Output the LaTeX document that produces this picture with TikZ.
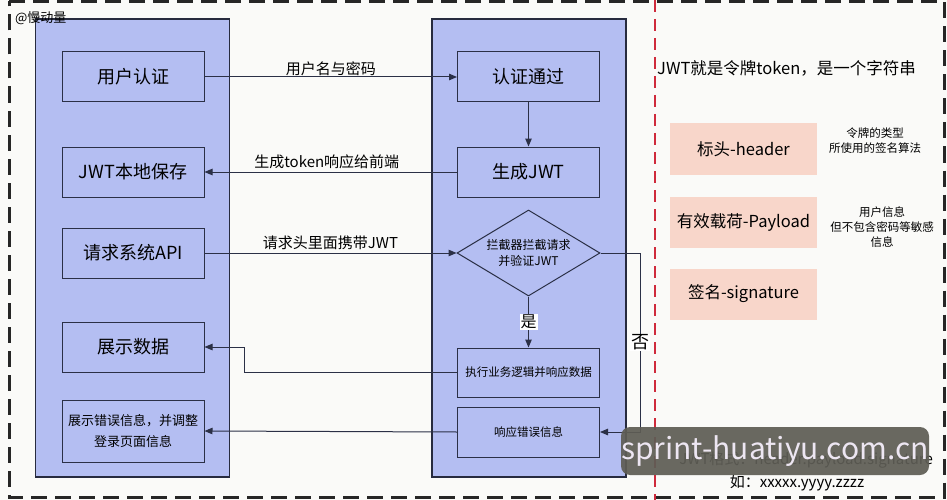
\documentclass[tikz,border=0pt]{standalone}
\usepackage{fontspec}
\setmainfont{Noto Sans CJK SC}
\usetikzlibrary{shapes.geometric,arrows.meta}
\definecolor{bgc}{HTML}{FAFAF8}
\definecolor{panelc}{HTML}{B4BEF2}
\definecolor{edgec}{HTML}{2B3046}
\definecolor{pinkc}{HTML}{F8D6CA}
\definecolor{redc}{HTML}{CF2A3C}
\definecolor{wmc}{HTML}{5E5D55}
\definecolor{wmt}{HTML}{EDE6F2}
\tikzset{
  panel/.style={draw=edgec!90!black, line width=1.2pt, fill=panelc, minimum width=#1},
  lbox/.style={draw=edgec, line width=1pt, fill=panelc, minimum width=142pt, minimum height=50pt, inner sep=0pt, align=center, font=\fontsize{18}{20}\selectfont},
  pbox/.style={fill=pinkc, minimum width=147pt, minimum height=51pt, inner sep=0pt, font=\fontsize{16.5}{19}\selectfont},
  note/.style={align=center, font=\fontsize{11.5}{15}\selectfont},
  lab/.style={font=\fontsize{15}{17}\selectfont},
  conn/.style={draw=edgec, line width=1pt, -{Triangle[length=8pt,width=6.5pt]}},
}
\begin{document}
\begin{tikzpicture}[x=1pt,y=-1pt]
\useasboundingbox (0,0) rectangle (947,500);
\fill[bgc] (0,0) rectangle (947,500);
% outer dashed border
\draw[black!85, line width=3pt, dash pattern=on 16pt off 8pt] (9,1.5) -- (944,1.5) -- (944,497) -- (9,497) -- cycle;
% red divider
\draw[redc, line width=2pt, dash pattern=on 12pt off 7pt] (655,0) -- (655,500);
% panels
\node[panel=194pt, minimum height=458pt, inner sep=0pt] (pl) at (132.5,248) {};
\node[panel=194pt, minimum height=458pt, inner sep=0pt] (pr) at (529,248) {};
\node[anchor=north west, font=\fontsize{13}{15}\selectfont, inner sep=0pt] (wm1) at (15,11) {@慢动量};
% left boxes
\node[lbox] (a1) at (133,77) {用户认证};
\node[lbox] (a2) at (133,172) {JWT本地保存};
\node[lbox] (a3) at (133,253) {请求系统API};
\node[lbox] (a4) at (133,347) {展示数据};
\node[lbox, minimum height=62pt, font=\fontsize{13}{21}\selectfont] (a5) at (133,431) {展示错误信息，并调整\\登录页面信息};
% right boxes
\node[lbox] (b1) at (528.5,77) {认证通过};
\node[lbox] (b2) at (528.5,172) {生成JWT};
\node[diamond, draw=edgec, line width=1pt, fill=panelc, minimum width=143pt, minimum height=86pt, inner sep=0pt, aspect=1.66, align=center, font=\fontsize{12}{16}\selectfont] (d) at (528.5,253) {拦截器拦截请求\\并验证JWT};
\node[lbox, minimum height=49pt, font=\fontsize{11.5}{14}\selectfont] (b3) at (528.5,372.5) {执行业务逻辑并响应数据};
\node[lbox, minimum height=50pt, font=\fontsize{11.5}{14}\selectfont] (b4) at (528.5,432) {响应错误信息};
% connectors
\draw[conn] (a1.east) -- node[lab, above, inner sep=1pt] {用户名与密码} (b1.west);
\draw[conn] (b1.south) -- (b2.north);
\draw[conn] (b2.west) -- node[lab, above, inner sep=3pt, xshift=-4pt] {生成token响应给前端} (a2.east);
\draw[conn] (a3.east) -- node[lab, above, inner sep=3pt] {请求头里面携带JWT} (d.west);
\draw[conn] (d.south) -- node[fill=white, inner sep=1pt, font=\fontsize{16}{18}\selectfont] {是} (b3.north);
\coordinate (n1) at (640,253);
\coordinate (n2) at (640,432);
\draw[conn] (d.east) -- (n1) -- node[fill=white, inner sep=1pt, font=\fontsize{18}{20}\selectfont] {否} (n2) -- (b4.east);
\coordinate (y1) at (244,372.5);
\coordinate (y2) at (244,347);
\draw[conn] (b3.west) -- (y1) -- (y2) -- (a4.east);
\draw[conn] (b4.west) -- (a5.east);
% right side
\node[anchor=west, inner sep=0pt, font=\fontsize{16.5}{19}\selectfont] (t1) at (657,68) {JWT就是令牌token，是一个字符串};
\node[pbox] (p1) at (743.5,149) {标头-header};
\node[pbox] (p2) at (743.5,222) {有效载荷-Payload};
\node[pbox] (p3) at (743.5,294) {签名-signature};
\node[note] (n1t) at (875,141) {令牌的类型\\所使用的签名算法};
\node[note] (n2t) at (882,227) {用户信息\\但不包含密码等敏感\\信息};
\node[anchor=east, inner sep=0pt, font=\fontsize{15}{17}\selectfont] (t2) at (933,460) {JWT格式：header.payload.signature};
\node[inner sep=0pt, font=\fontsize{15}{17}\selectfont] (t3) at (797,483) {如：xxxxx.yyyy.zzzz};
% watermark overlay
\node[fill=wmc, fill opacity=0.93, text opacity=1, text=wmt, rounded corners=9pt, minimum width=295pt, minimum height=48pt, inner sep=0pt, font=\fontsize{30}{32}\selectfont] (wm2) at (775,451) {sprint-huatiyu.com.cn};
\end{tikzpicture}
\end{document}
